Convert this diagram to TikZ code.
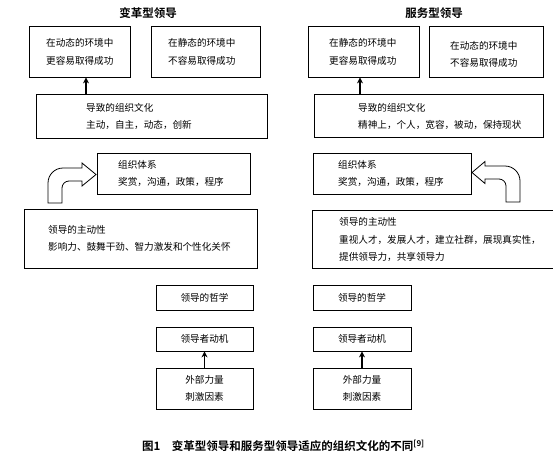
\documentclass[tikz,border=0pt]{standalone}
\usepackage{fontspec}
\newfontfamily\cjk{Noto Sans CJK SC}[BoldFont={* Bold}]
\usetikzlibrary{arrows.meta}
\begin{document}
\begin{tikzpicture}[x=1pt,y=-1pt,
  box/.style={draw,line width=0.8pt,inner sep=0pt},
  txt/.style={anchor=west,inner sep=0pt,font=\cjk\fontsize{9.6}{11}\selectfont},
  ctxt/.style={inner sep=0pt,font=\cjk\fontsize{9.6}{11}\selectfont},
  ttl/.style={inner sep=0pt,font=\cjk\bfseries\fontsize{11.5}{13}\selectfont},
  arr/.style={line width=1.2pt,-{Stealth[length=6pt,width=6pt]}},
  bentarrow/.style={line width=0.8pt,fill=white,line join=miter}]
\useasboundingbox (0,0) rectangle (553,458);

% titles
\node[ttl] (tl) at (148,13) {变革型领导};
\node[ttl] (tr) at (434,13) {服务型领导};

% ---------- left column ----------
\node[box,minimum width=101pt,minimum height=51pt] (L1) at (79.5,51.5) {};
\node[txt] (L1a) at (46,43) {在动态的环境中};
\node[txt] (L1b) at (46,61) {更容易取得成功};
\node[box,minimum width=109pt,minimum height=51pt] (L2) at (205.5,51.5) {};
\node[txt] (L2a) at (168,43) {在静态的环境中};
\node[txt] (L2b) at (168,61) {不容易取得成功};

\node[box,minimum width=231pt,minimum height=44pt] (LC) at (151.5,116) {};
\node[txt] (LCa) at (86,108) {导致的组织文化};
\node[txt] (LCb) at (86,125) {主动，自主，动态，创新};

\node[box,minimum width=153pt,minimum height=41pt] (LO) at (173.5,173.5) {};
\node[txt] (LOa) at (118,165) {组织体系};
\node[txt] (LOb) at (118,182) {奖赏，沟通，政策，程序};

\node[box,minimum width=233pt,minimum height=59pt] (LL) at (140.5,238.5) {};
\node[txt] (LLa) at (48,230) {领导的主动性};
\node[txt] (LLb) at (48,247) {影响力、鼓舞干劲、智力激发和个性化关怀};

\node[box,minimum width=97pt,minimum height=25pt] (LP) at (204.5,297.5) {};
\node[ctxt] (LPa) at (204.5,297.5) {领导的哲学};
\node[box,minimum width=97pt,minimum height=24pt] (LM) at (204.5,339) {};
\node[ctxt] (LMa) at (204.5,339) {领导者动机};
\node[box,minimum width=97pt,minimum height=41pt] (LE) at (204.5,388.5) {};
\node[ctxt] (LEa) at (204.5,380) {外部力量};
\node[ctxt] (LEb) at (204.5,397) {刺激因素};

\coordinate (la) at (86,0);
\draw[arr] (la |- LC.north) -- (la |- L1.south);
\draw[arr] (LE.north) -- (LM.south);

% left bent arrow
\draw[bentarrow] (48,203) [rounded corners=15pt] -- (48,168) [sharp corners] -- (82,168)
  -- (82,163) -- (96,174.5) -- (82,186) -- (82,181)
  [rounded corners=7pt] -- (62,181) [sharp corners] -- (62,203) -- cycle;

% ---------- right column ----------
\node[box,minimum width=111pt,minimum height=51pt] (R1) at (363.5,51.5) {};
\node[txt] (R1a) at (329,43) {在静态的环境中};
\node[txt] (R1b) at (329,61) {更容易取得成功};
\node[box,minimum width=114pt,minimum height=51pt] (R2) at (486,51.5) {};
\node[txt] (R2a) at (450,46) {在动态的环境中};
\node[txt] (R2b) at (450,63) {不容易取得成功};

\node[box,minimum width=229pt,minimum height=43pt] (RC) at (428.5,115.5) {};
\node[txt] (RCa) at (358,108) {导致的组织文化};
\node[txt] (RCb) at (358,125) {精神上，个人，宽容，被动，保持现状};

\node[box,minimum width=158pt,minimum height=41pt] (RO) at (392,173.5) {};
\node[txt] (ROa) at (338,165) {组织体系};
\node[txt] (ROb) at (338,182) {奖赏，沟通，政策，程序};

\node[inner sep=0pt,minimum width=240pt,minimum height=57pt] (RL) at (433,239.5) {};
\draw[line width=0.8pt] (RL.north east) -- (RL.north west) -- (RL.south west) -- (RL.south east);
\node[txt] (RLa) at (339,222) {领导的主动性};
\node[txt] (RLb) at (339,239.5) {重视人才，发展人才，建立社群，展现真实性，};
\node[txt] (RLc) at (339,257) {提供领导力，共享领导力};

\node[box,minimum width=98pt,minimum height=25pt] (RP) at (362,297.5) {};
\node[ctxt] (RPa) at (362,297.5) {领导的哲学};
\node[box,minimum width=98pt,minimum height=24pt] (RM) at (362,339) {};
\node[ctxt] (RMa) at (362,339) {领导者动机};
\node[box,minimum width=98pt,minimum height=41pt] (RE) at (362,388.5) {};
\node[ctxt] (REa) at (362,380) {外部力量};
\node[ctxt] (REb) at (362,397) {刺激因素};

\coordinate (ra) at (360,0);
\draw[arr] (ra |- RC.north) -- (ra |- R1.south);
\draw[arr] (RE.north) -- (RM.south);

% right bent arrow
\draw[bentarrow] (520,202) [rounded corners=15pt] -- (520,166) [sharp corners] -- (485,166)
  -- (485,161.5) -- (472,172.5) -- (485,183.5) -- (485,179)
  [rounded corners=7pt] -- (506,179) [sharp corners] -- (506,202) -- cycle;

% caption
\node[anchor=west,inner sep=0pt,font=\cjk\bfseries\fontsize{11.5}{13}\selectfont] (cap) at (142,446)
  {图1\hspace{1em}变革型领导和服务型领导适应的组织文化的不同\textsuperscript{\fontsize{8}{9}\selectfont[9]}};
\end{tikzpicture}
\end{document}
